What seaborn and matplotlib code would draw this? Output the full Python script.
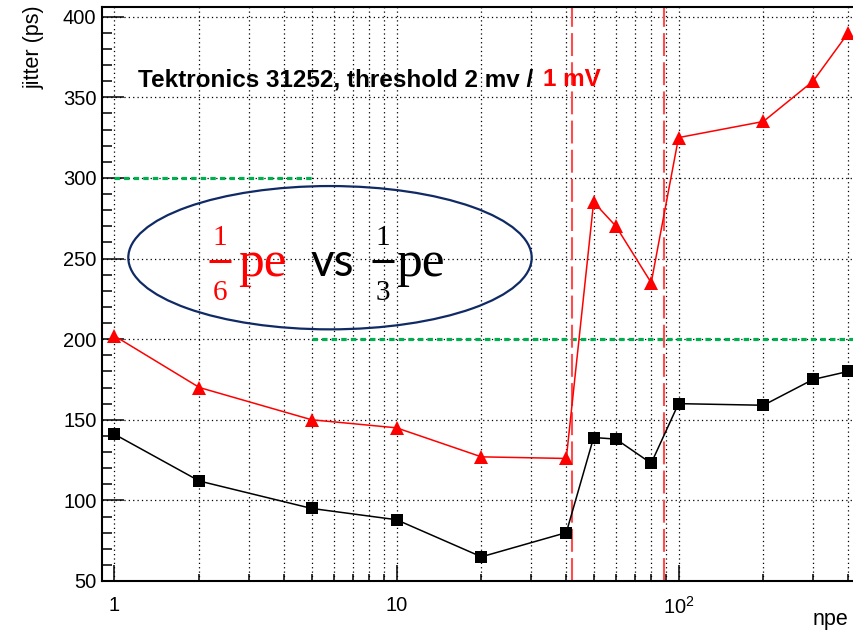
import matplotlib
matplotlib.use("Agg")
import matplotlib.pyplot as plt
import matplotlib.ticker as mticker
from matplotlib.patches import Ellipse
from matplotlib.lines import Line2D
import seaborn as sns
import pandas as pd

# ---- data -------------------------------------------------------------
npe = [1, 2, 5, 10, 20, 40, 50, 60, 80, 100, 200, 300, 400]
jitter_2mv = [141, 112, 95, 88, 65, 80, 139, 138, 123, 160, 159, 175, 180]
jitter_1mv = [202, 170, 150, 145, 127, 126, 285, 270, 235, 325, 335, 360, 390]

# vertical markers of the npe range
range_edges = [42, 89]

# horizontal reference levels: (y, x_start, x_end)
ref_levels_y = [300, 200]
ref_levels_x0 = [1, 5]
ref_levels_x1 = [5, 420]

y_ticks = [50, 100, 150, 200, 250, 300, 350, 400]
x_ticks = [1, 10, 100]
x_tick_labels = ["1", "10", r"$10^{2}$"]

x_limits = (0.903, 419)
y_limits = (50, 406)

# ---- style ------------------------------------------------------------
sns.set_style("white")
plt.rcParams["font.family"] = ["Liberation Sans", "DejaVu Sans"]
plt.rcParams["mathtext.default"] = "regular"

W, H = 854, 632
fig = plt.figure(figsize=(W / 100, H / 100), dpi=100)
ax_l, ax_r, ax_t, ax_b = 102, 854, 7, 581
ax = fig.add_axes([ax_l / W, (H - ax_b) / H, (ax_r - ax_l) / W, (ax_b - ax_t) / H])


def frac(px, py):
    """Pixel position on the canvas -> axes fraction."""
    return (px - ax_l) / (ax_r - ax_l), (ax_b - py) / (ax_b - ax_t)


df = pd.DataFrame({"npe": npe, "2 mV": jitter_2mv, "1 mV": jitter_1mv})
sns.lineplot(data=df, x="npe", y="1 mV", color="#ff0000", marker="^",
             markersize=9.5, markeredgewidth=0, linewidth=1.1, ax=ax, zorder=3)
sns.lineplot(data=df, x="npe", y="2 mV", color="black", marker="s",
             markersize=8.2, markeredgewidth=0, linewidth=1.1, ax=ax, zorder=4)

ax.set_xscale("log")
ax.set_xlim(*x_limits)
ax.set_ylim(*y_limits)

# ticks (inside, on left and bottom only)
ax.set_yticks(y_ticks)
ax.yaxis.set_minor_locator(mticker.MultipleLocator(10))
ax.set_xticks(x_ticks)
ax.set_xticklabels(x_tick_labels)
ax.xaxis.set_minor_locator(mticker.LogLocator(base=10, subs=range(2, 10), numticks=20))
ax.xaxis.set_minor_formatter(mticker.NullFormatter())
ax.tick_params(axis="y", which="major", direction="in", length=16, width=1.1,
               labelsize=14.5, pad=4, left=True, color="black", labelcolor="black")
ax.tick_params(axis="y", which="minor", direction="in", length=7.5, width=1.1,
               left=True, color="black")
ax.tick_params(axis="x", which="major", direction="in", length=11.5, width=1.1,
               labelsize=14.5, pad=11, bottom=True, color="black", labelcolor="black")
ax.tick_params(axis="x", which="minor", direction="in", length=5, width=1.1,
               bottom=True, color="black")

# dotted grid
dot = (0, (1, 2.5))
ax.grid(True, which="major", axis="y", color="black", linestyle=dot, linewidth=0.9)
ax.grid(True, which="both", axis="x", color="black", linestyle=dot, linewidth=0.9)
ax.set_axisbelow(True)

# reference levels
for y, x0, x1 in zip(ref_levels_y, ref_levels_x0, ref_levels_x1):
    ax.hlines(y, x0, x1, color="#00b050", linewidth=2.3,
              linestyles=[(0, (1.7, 1.3))], zorder=2)

# range markers
for xv in range_edges:
    ax.axvline(xv, color="#ff4d4d", linewidth=1.5, linestyle=(0, (11, 3)), zorder=2)

for side in ["left", "bottom", "top"]:
    ax.spines[side].set_color("black")
    ax.spines[side].set_linewidth(1.5)
ax.spines["right"].set_visible(False)

# axis titles
ax.set_ylabel("jitter (ps)", fontsize=15.5, loc="top", color="black")
ax.yaxis.set_label_coords(*frac(45, 5))
ax.set_xlabel("npe", fontsize=15.5, loc="right", color="black")
ax.xaxis.set_label_coords(*frac(848, 609))

# header
ax.text(*frac(138, 86.5), "Tektronics 31252, threshold 2 mv / ", transform=ax.transAxes,
        fontsize=17.5, fontweight="bold", color="black", va="baseline", ha="left")
ax.text(*frac(543, 86.5), "1 mV", transform=ax.transAxes,
        fontsize=17.5, fontweight="bold", color="#ff0000", va="baseline", ha="left")

# highlighted comparison
ax.add_patch(Ellipse(frac(330, 257.7), 403.4 / (ax_r - ax_l), 143.3 / (ax_b - ax_t),
                     transform=ax.transAxes, fill=False, edgecolor="#102a66",
                     linewidth=1.6, zorder=5))

serif = ["Liberation Serif", "DejaVu Serif"]


def fraction_pe(cx, num, den, pe_x, color):
    ax.text(*frac(cx, 245), num, transform=ax.transAxes, family=serif, fontsize=21,
            color=color, ha="center", va="baseline", zorder=6)
    ax.text(*frac(cx, 300), den, transform=ax.transAxes, family=serif, fontsize=21,
            color=color, ha="center", va="baseline", zorder=6)
    (bx0, by), (bx1, _) = frac(cx - 11, 261), frac(cx + 11, 261)
    ax.add_line(Line2D([bx0, bx1], [by, by], transform=ax.transAxes, color=color,
                       linewidth=2.2, solid_capstyle="butt", zorder=6))
    ax.text(*frac(pe_x, 276), "pe", transform=ax.transAxes, family=serif, fontsize=37,
            color=color, ha="left", va="baseline", zorder=6)


fraction_pe(220, "1", "6", 238, "#ff0000")
ax.text(*frac(310, 276), "vs", transform=ax.transAxes, family=["Lato", "DejaVu Sans"],
        fontsize=33, color="black", ha="left", va="baseline", zorder=6)
fraction_pe(383, "1", "3", 396, "black")

fig.savefig("out.png", dpi=100)
